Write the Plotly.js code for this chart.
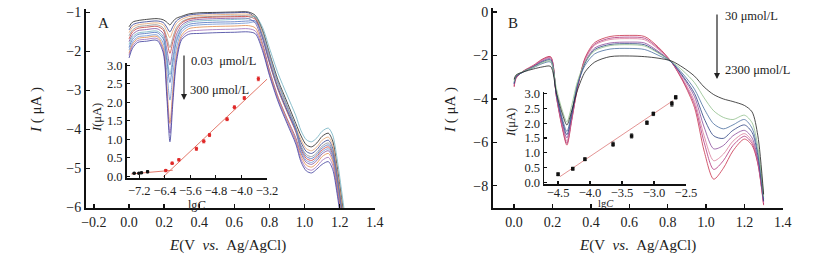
<!DOCTYPE html>
<html>
<head>
<meta charset="utf-8">
<script src="https://cdn.plot.ly/plotly-3.0.1.min.js"></script>
<style>html,body{margin:0;padding:0;background:#fff;}#chart{width:830px;height:274px;}</style>
</head>
<body>
<div id="chart"></div>
<script>
// ---------- Panel A : voltammograms ----------
const xA = [0.0,0.02,0.05,0.1,0.16,0.195,0.215,0.233,0.25,0.27,0.3,0.34,0.4,0.5,0.6,0.68,0.72,0.76,0.8,0.85,0.9,0.95,0.98,1.01,1.04,1.07,1.1,1.135,1.16,1.185,1.21,1.235];
const curveA1  = [-1.37,-1.25,-1.21,-1.18,-1.16,-1.19,-1.25,-1.32,-1.23,-1.15,-1.10,-1.04,-1.01,-1.00,-0.99,-0.99,-1.08,-1.45,-2.05,-2.75,-3.30,-3.85,-4.17,-4.40,-4.45,-4.35,-4.18,-4.10,-4.30,-4.95,-5.75,-6.60];
const curveA2  = [-1.45,-1.32,-1.27,-1.24,-1.22,-1.26,-1.38,-1.50,-1.36,-1.22,-1.13,-1.07,-1.04,-1.02,-1.01,-1.01,-1.15,-1.60,-2.25,-2.95,-3.50,-4.00,-4.34,-4.57,-4.62,-4.52,-4.36,-4.28,-4.48,-5.13,-5.93,-6.78];
const curveA3  = [-1.52,-1.38,-1.32,-1.29,-1.27,-1.32,-1.48,-1.65,-1.47,-1.29,-1.18,-1.11,-1.08,-1.06,-1.05,-1.05,-1.13,-1.57,-2.20,-2.90,-3.45,-3.95,-4.27,-4.50,-4.55,-4.45,-4.28,-4.20,-4.40,-5.05,-5.85,-6.70];
const curveA4  = [-1.60,-1.45,-1.37,-1.34,-1.32,-1.40,-1.64,-1.90,-1.64,-1.39,-1.24,-1.16,-1.12,-1.10,-1.09,-1.09,-1.12,-1.48,-2.08,-2.80,-3.38,-3.95,-4.42,-4.65,-4.70,-4.60,-4.43,-4.35,-4.55,-5.20,-6.00,-6.85];
const curveA5  = [-1.68,-1.50,-1.41,-1.38,-1.36,-1.45,-1.74,-2.05,-1.75,-1.46,-1.27,-1.18,-1.14,-1.12,-1.11,-1.11,-1.18,-1.65,-2.30,-3.00,-3.55,-4.07,-4.52,-4.75,-4.80,-4.70,-4.53,-4.45,-4.65,-5.30,-6.10,-6.95];
const curveA6  = [-1.75,-1.57,-1.47,-1.44,-1.42,-1.54,-1.94,-2.35,-1.96,-1.57,-1.33,-1.22,-1.18,-1.16,-1.15,-1.16,-1.28,-1.78,-2.48,-3.18,-3.72,-4.22,-4.62,-4.85,-4.90,-4.80,-4.63,-4.55,-4.75,-5.40,-6.20,-7.00];
const curveA7  = [-1.82,-1.63,-1.53,-1.50,-1.48,-1.62,-2.10,-2.60,-2.14,-1.67,-1.39,-1.26,-1.22,-1.20,-1.18,-1.16,-1.10,-1.38,-1.92,-2.58,-3.12,-3.65,-4.04,-4.27,-4.32,-4.22,-4.05,-3.97,-4.15,-4.75,-5.55,-6.40];
const curveA8  = [-1.90,-1.69,-1.57,-1.54,-1.52,-1.68,-2.23,-2.80,-2.28,-1.75,-1.43,-1.31,-1.27,-1.25,-1.24,-1.22,-1.22,-1.65,-2.28,-2.98,-3.52,-4.03,-4.47,-4.70,-4.75,-4.65,-4.48,-4.40,-4.60,-5.25,-6.05,-6.90];
const curveA9  = [-1.97,-1.76,-1.63,-1.60,-1.58,-1.79,-2.50,-3.25,-2.58,-1.91,-1.50,-1.36,-1.32,-1.30,-1.29,-1.27,-1.25,-1.60,-2.15,-2.85,-3.42,-3.98,-4.57,-4.80,-4.85,-4.75,-4.58,-4.50,-4.70,-5.35,-6.15,-7.00];
const curveA10 = [-2.05,-1.81,-1.67,-1.64,-1.62,-1.90,-2.85,-3.85,-2.97,-2.09,-1.58,-1.42,-1.38,-1.36,-1.35,-1.34,-1.40,-1.85,-2.52,-3.20,-3.75,-4.27,-4.69,-4.92,-4.97,-4.87,-4.70,-4.62,-4.82,-5.45,-6.25,-7.10];
const curveA11 = [-2.10,-1.86,-1.72,-1.69,-1.67,-1.97,-3.01,-4.10,-3.14,-2.18,-1.64,-1.49,-1.46,-1.44,-1.43,-1.42,-1.48,-1.92,-2.58,-3.25,-3.80,-4.32,-4.77,-5.00,-5.05,-4.95,-4.80,-4.72,-4.92,-5.55,-6.35,-7.20];
const curveA12 = [-2.17,-1.92,-1.77,-1.74,-1.72,-2.04,-3.15,-4.32,-3.30,-2.28,-1.70,-1.56,-1.54,-1.52,-1.51,-1.50,-1.55,-1.98,-2.62,-3.30,-3.85,-4.38,-4.84,-5.07,-5.12,-5.02,-4.90,-4.83,-5.03,-5.65,-6.45,-7.30];
const curvesA = [curveA1,curveA2,curveA3,curveA4,curveA5,curveA6,curveA7,curveA8,curveA9,curveA10,curveA11,curveA12];
const colorsA = ['#1f1f1f','#2e3b8c','#e6a470','#8c8c8c','#c8403a','#7b4fa0','#6fb0c0','#4a6fc0','#6a90d0','#e08a4a','#9a68b8','#3b3b9a'];

// ---------- Panel A inset ----------
const lgA_black = [-7.36,-7.21,-7.13,-6.94];
const IA_black  = [0.08,0.08,0.09,0.12];
const errA_black = [0.02,0.02,0.02,0.03];
const lgA_red = [-6.37,-6.17,-5.96,-5.41,-5.18,-5.00,-4.45,-4.22,-3.91,-3.47];
const IA_red  = [0.15,0.35,0.44,0.74,0.94,1.11,1.54,1.86,2.11,2.63];
const errA_red = [0.03,0.03,0.03,0.04,0.04,0.04,0.04,0.04,0.04,0.05];
const fitA_low_x = [-7.45,-6.15];
const fitA_low_y = [0.06,0.16];
const fitA_x = [-6.45,-3.2];
const fitA_y = [-0.02,2.62];

// ---------- Panel B : voltammograms ----------
const xB = [0.0,0.01,0.05,0.1,0.15,0.19,0.22,0.25,0.275,0.3,0.33,0.37,0.42,0.5,0.6,0.68,0.75,0.82,0.88,0.94,0.99,1.04,1.09,1.14,1.2,1.24,1.27,1.3];
const curveB1 = [-3.45,-3.05,-2.70,-2.45,-2.15,-2.05,-3.89,-5.31,-6.13,-5.00,-3.50,-2.10,-1.40,-1.12,-1.07,-1.12,-1.60,-2.30,-3.20,-4.40,-6.40,-7.70,-7.20,-6.40,-5.85,-6.15,-7.00,-8.90];
const curveB2 = [-3.40,-3.02,-2.72,-2.48,-2.18,-2.08,-3.87,-5.25,-6.05,-4.95,-3.50,-2.15,-1.47,-1.20,-1.15,-1.20,-1.65,-2.30,-3.15,-4.25,-6.00,-7.25,-6.85,-6.15,-5.72,-6.05,-6.95,-8.85];
const curveB3 = [-3.35,-3.00,-2.72,-2.48,-2.20,-2.10,-3.83,-5.18,-5.95,-4.90,-3.45,-2.20,-1.52,-1.26,-1.22,-1.27,-1.70,-2.30,-3.10,-4.10,-5.70,-6.85,-6.55,-5.95,-5.60,-5.95,-6.90,-8.80];
const curveB4 = [-3.30,-2.98,-2.72,-2.50,-2.24,-2.15,-3.79,-5.07,-5.80,-4.80,-3.40,-2.30,-1.65,-1.42,-1.38,-1.42,-1.80,-2.30,-3.00,-3.90,-5.30,-6.30,-6.15,-5.70,-5.45,-5.80,-6.80,-8.75];
const curveB5 = [-3.30,-2.98,-2.74,-2.52,-2.28,-2.20,-3.75,-4.96,-5.65,-4.70,-3.35,-2.35,-1.72,-1.49,-1.45,-1.50,-1.85,-2.30,-2.95,-3.75,-4.90,-5.70,-5.82,-5.45,-5.20,-5.55,-6.60,-8.70];
const curveB6 = [-3.25,-2.95,-2.75,-2.56,-2.36,-2.30,-3.74,-4.86,-5.50,-4.62,-3.35,-2.45,-1.92,-1.70,-1.67,-1.72,-1.98,-2.30,-2.85,-3.55,-4.45,-5.15,-5.38,-5.20,-4.95,-5.35,-6.45,-8.60];
const curveB7 = [-3.20,-2.92,-2.72,-2.54,-2.32,-2.25,-3.51,-4.50,-5.06,-4.30,-3.20,-2.30,-1.78,-1.54,-1.50,-1.56,-1.88,-2.27,-2.70,-3.25,-3.95,-4.55,-4.85,-4.95,-4.75,-5.10,-6.20,-8.50];
const curveB8 = [-3.10,-2.90,-2.75,-2.62,-2.52,-2.50,-3.70,-4.65,-5.20,-4.55,-3.60,-2.75,-2.30,-2.05,-2.02,-2.05,-2.12,-2.25,-2.55,-2.95,-3.45,-3.80,-4.00,-4.12,-4.30,-4.60,-5.70,-8.40];
const curvesB = [curveB1,curveB2,curveB3,curveB4,curveB5,curveB6,curveB7,curveB8];
const colorsB = ['#c8304a','#b0307a','#d87a98','#8a4a9a','#2a3f7f','#4a6fa0','#8fbf8a','#1f1f1f'];

// ---------- Panel B inset ----------
const lgB = [-4.50,-4.27,-4.08,-3.64,-3.35,-3.11,-3.01,-2.72,-2.66];
const IB  = [0.27,0.46,0.78,1.29,1.57,2.02,2.32,2.66,2.88];
const errB = [0.05,0.05,0.05,0.07,0.07,0.06,0.06,0.08,0.06];
const fitB_x = [-4.47,-2.70];
const fitB_y = [0.19,2.77];

// ---------- tick labels ----------
const tickMainX = [-0.2,0.0,0.2,0.4,0.6,0.8,1.0,1.2,1.4];
const tickMainXB = [0.0,0.2,0.4,0.6,0.8,1.0,1.2,1.4];
const tickAY = [-6,-5,-4,-3,-2,-1];
const tickBY = [-8,-6,-4,-2,0];
const tickInsetY = [0.0,0.5,1.0,1.5,2.0,2.5,3.0];
const tickInsetAX = [-7.2,-6.4,-5.6,-4.8,-4.0,-3.2];
const tickInsetBX = [-4.5,-4.0,-3.5,-3.0,-2.5];

const W = 830, H = 274;
const px = v => v / W;
const py = v => 1 - v / H;
const minus = s => s.replace('-', '\u2212');
const fmt1 = arr => arr.map(v => minus(v.toFixed(1)));
const fmt0 = arr => arr.map(v => minus(String(v)));

const traces = [];
curvesA.forEach((c, i) => traces.push({
  x: xA, y: c, xaxis: 'x', yaxis: 'y', mode: 'lines', type: 'scatter',
  line: {color: colorsA[i], width: 0.8, shape: 'spline', smoothing: 0.8}, hoverinfo: 'skip'
}));
curvesB.forEach((c, i) => traces.push({
  x: xB, y: c, xaxis: 'x3', yaxis: 'y3', mode: 'lines', type: 'scatter',
  line: {color: colorsB[i], width: 0.8, shape: 'spline', smoothing: 0.8}, hoverinfo: 'skip'
}));
// inset A
traces.push({x: fitA_low_x, y: fitA_low_y, xaxis: 'x2', yaxis: 'y2', mode: 'lines', line: {color: '#e06a5a', width: 0.9}});
traces.push({x: fitA_x, y: fitA_y, xaxis: 'x2', yaxis: 'y2', mode: 'lines', line: {color: '#e06a5a', width: 0.9}});
traces.push({x: lgA_black, y: IA_black, xaxis: 'x2', yaxis: 'y2', mode: 'markers',
  marker: {color: '#111', size: 3.5, symbol: 'circle'},
  error_y: {type: 'data', array: errA_black, visible: true, color: '#111', thickness: 0.8, width: 1.5}});
traces.push({x: lgA_red, y: IA_red, xaxis: 'x2', yaxis: 'y2', mode: 'markers',
  marker: {color: '#e02828', size: 3.5, symbol: 'circle'},
  error_y: {type: 'data', array: errA_red, visible: true, color: '#e02828', thickness: 0.8, width: 1.5}});
// inset B
traces.push({x: fitB_x, y: fitB_y, xaxis: 'x4', yaxis: 'y4', mode: 'lines', line: {color: '#e08888', width: 0.9}});
traces.push({x: lgB, y: IB, xaxis: 'x4', yaxis: 'y4', mode: 'markers',
  marker: {color: '#111', size: 3.5, symbol: 'square'},
  error_y: {type: 'data', array: errB, visible: true, color: '#111', thickness: 0.8, width: 1.5}});

const mainAxis = {
  showline: true, linewidth: 2, linecolor: '#111', ticks: 'inside', ticklen: 4, tickwidth: 1.5,
  tickcolor: '#111', showgrid: false, zeroline: false, tickfont: {size: 14, color: '#222'}, mirror: false
};
const insetAxis = {
  showline: true, linewidth: 1.5, linecolor: '#111', ticks: 'inside', ticklen: 3, tickwidth: 1.2,
  tickcolor: '#111', showgrid: false, zeroline: false, tickfont: {size: 12.5, color: '#222'}
};

const layout = {
  width: W, height: H, margin: {l: 0, r: 0, t: 0, b: 0},
  paper_bgcolor: '#ffffff', plot_bgcolor: 'rgba(0,0,0,0)', showlegend: false,
  font: {family: '"Liberation Serif", "Times New Roman", serif', size: 14, color: '#222'},
  xaxis: Object.assign({}, mainAxis, {domain: [px(86), px(375)], range: [-0.245, 1.401], anchor: 'y',
    tickmode: 'array', tickvals: tickMainX, ticktext: fmt1(tickMainX)}),
  yaxis: Object.assign({}, mainAxis, {domain: [py(208), py(8.5)], range: [-6.02, -0.9], anchor: 'x',
    tickmode: 'array', tickvals: tickAY, ticktext: fmt0(tickAY)}),
  xaxis2: Object.assign({}, insetAxis, {domain: [px(126.5), px(267)], range: [-7.6, -3.199], anchor: 'y2',
    tickmode: 'array', tickvals: tickInsetAX, ticktext: fmt1(tickInsetAX)}),
  yaxis2: Object.assign({}, insetAxis, {domain: [py(178), py(63.3)], range: [-0.05, 3.05], anchor: 'x2',
    tickmode: 'array', tickvals: tickInsetY, ticktext: fmt1(tickInsetY)}),
  xaxis3: Object.assign({}, mainAxis, {domain: [px(493), px(783)], range: [-0.11, 1.401], anchor: 'y3',
    tickmode: 'array', tickvals: tickMainXB, ticktext: fmt1(tickMainXB)}),
  yaxis3: Object.assign({}, mainAxis, {domain: [py(208), py(8.3)], range: [-9.03, 0.18], anchor: 'x3',
    tickmode: 'array', tickvals: tickBY, ticktext: fmt0(tickBY)}),
  xaxis4: Object.assign({}, insetAxis, {domain: [px(544), px(686)], range: [-4.72, -2.499], anchor: 'y4',
    tickmode: 'array', tickvals: tickInsetBX, ticktext: fmt1(tickInsetBX), ticklabelstandoff: -4}),
  yaxis4: Object.assign({}, insetAxis, {domain: [py(184.3), py(92.3)], range: [-0.07, 3.05], anchor: 'x4',
    tickmode: 'array', tickvals: tickInsetY, ticktext: fmt1(tickInsetY)}),
  annotations: []
};

const S = '\u00a0';
function txt(x, y, text, size, opts) {
  return Object.assign({xref: 'paper', yref: 'paper', x: px(x), y: py(y), text: text, showarrow: false,
    font: {size: size, color: '#222'}, xanchor: 'center', yanchor: 'middle'}, opts || {});
}
const xTitle = '<i>E</i>(V' + S + S + '<i>vs</i>.' + S + S + 'Ag/AgCl)';
const yTitle = '<i>I</i>' + S + '(' + S + 'μA' + S + ')';
layout.annotations.push(
  txt(227, 245, xTitle, 15),
  txt(637, 245, xTitle, 15),
  txt(36, 110, yTitle, 15, {textangle: -90}),
  txt(450, 110, yTitle, 15, {textangle: -90}),
  txt(97, 118, '<i>I</i>(μA)', 12.5, {textangle: -90}),
  txt(511, 123, '<i>I</i>(μA)', 12.5, {textangle: -90}),
  txt(197, 205, 'lg<i>C</i>', 12),
  txt(606, 203, 'lg<i>C</i>', 10.5),
  txt(103, 23, 'A', 15),
  txt(513, 23, 'B', 15),
  txt(189, 61, '0.03' + S + S + 'μmol/L', 12.5, {xanchor: 'left'}),
  txt(188, 90, '300' + S + 'μmol/L', 12.5, {xanchor: 'left'}),
  txt(723, 16, '30' + S + 'μmol/L', 12.5, {xanchor: 'left'}),
  txt(723, 70, '2300' + S + 'μmol/L', 12.5, {xanchor: 'left'}),
  {xref: 'paper', yref: 'paper', x: px(184), y: py(100), ax: 0, ay: -46, text: '', showarrow: true,
   arrowhead: 2, arrowsize: 1, arrowwidth: 1.2, arrowcolor: '#222'},
  {xref: 'paper', yref: 'paper', x: px(717), y: py(79), ax: 0, ay: -66, text: '', showarrow: true,
   arrowhead: 2, arrowsize: 1, arrowwidth: 1.2, arrowcolor: '#222'}
);

Plotly.newPlot('chart', traces, layout, {staticPlot: true, displayModeBar: false});
</script>
</body>
</html>
